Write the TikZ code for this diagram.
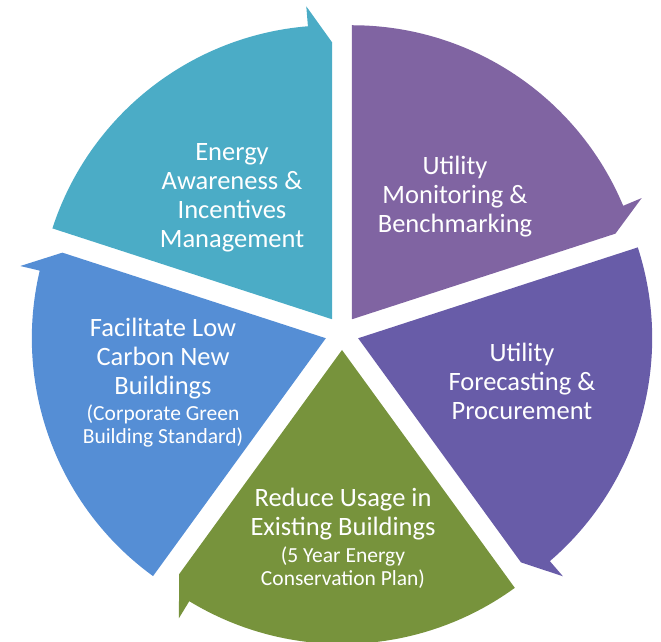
\documentclass[tikz,border=0pt]{standalone}
\usepackage{fontspec}
\setmainfont{Carlito}
\usepackage{tikz}
\usetikzlibrary{positioning}
\definecolor{segteal}{RGB}{75,172,198}
\definecolor{segpurple}{RGB}{128,100,162}
\definecolor{segviolet}{RGB}{104,92,168}
\definecolor{segolive}{RGB}{119,147,60}
\definecolor{segblue}{RGB}{85,142,213}

% one wedge of the cycle: colour, start angle, end angle (arrow at end angle)
\newcommand{\cyclesegment}[3]{%
    \pgfmathsetmacro{\segmid}{(#2+#3)/2}%
    \pgfmathsetmacro{\segback}{#3+4.7}%
    \fill[#1, shift={(\segmid:17)}] (0,0) -- (#2:294)
        arc[start angle=#2, end angle=\segback, radius=294]
        -- (\segback:314) -- (#3:277) -- cycle;
}

\begin{document}
\begin{tikzpicture}[
    x=1pt, y=1pt,
    node distance=0pt,
    seglabel/.style={text=white, align=center, inner sep=0pt, font=\fontsize{26.5}{29}\selectfont},
    sublabel/.style={text=white, align=center, inner sep=0pt, font=\fontsize{21.5}{23}\selectfont}
]
    \useasboundingbox (0,0) rectangle (661,642);

    % Segments
    \begin{scope}[shift={(342,309)}]
        \cyclesegment{segteal}{162}{90}
        \cyclesegment{segpurple}{90}{18}
        \cyclesegment{segviolet}{18}{-54}
        \cyclesegment{segolive}{-54}{-126}
        \cyclesegment{segblue}{234}{162}
    \end{scope}

    % Labels
    \node[seglabel] (energy) at (232, 444) {Energy\\Awareness \&\\Incentives\\Management};
    \node[seglabel] (monitor) at (455, 445) {Utility\\Monitoring \&\\Benchmarking};
    \node[seglabel] (forecast) at (522, 261) {Utility\\Forecasting \&\\Procurement};
    \node[seglabel] (reduce) at (343, 128) {Reduce Usage in\\Existing Buildings};
    \node[sublabel, below=6pt of reduce] (plan) {(5 Year Energy\\Conservation Plan)};
    \node[seglabel] (lowcarbon) at (163, 283) {Facilitate Low\\Carbon New\\Buildings};
    \node[sublabel, below=5pt of lowcarbon] (standard) {(Corporate Green\\Building Standard)};
\end{tikzpicture}
\end{document}
